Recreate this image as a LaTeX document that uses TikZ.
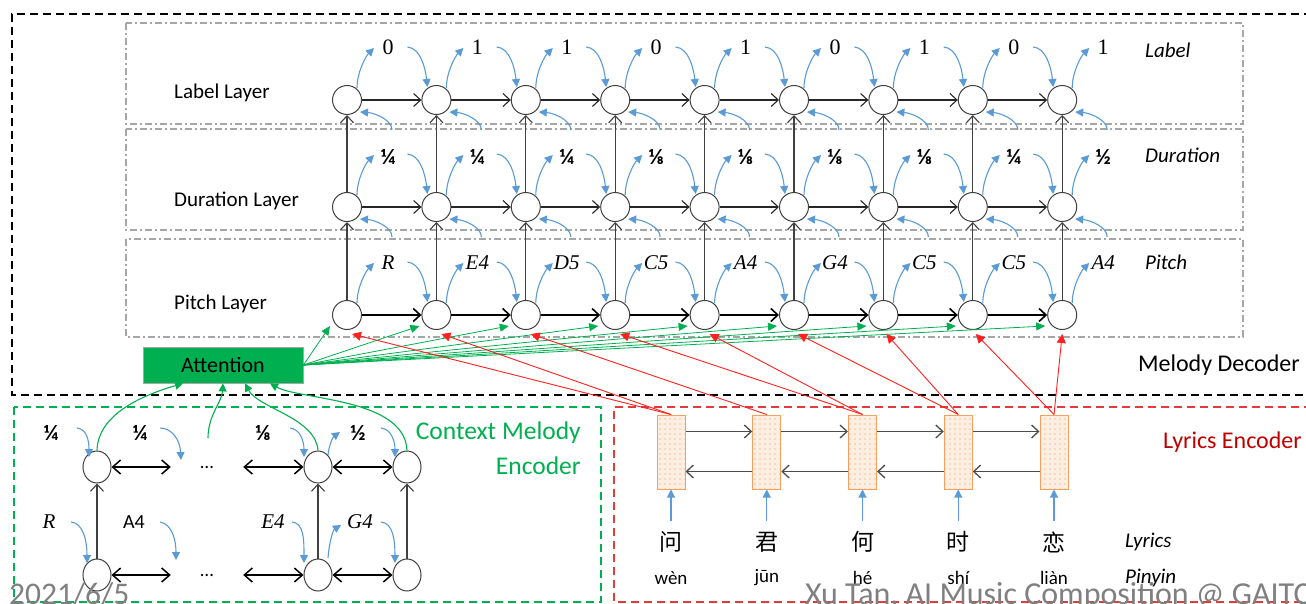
\documentclass[tikz,border=0pt]{standalone}
\usepackage{fontspec}
\setmainfont{Carlito}
\newfontfamily\cjk{Noto Sans CJK SC}
\newfontfamily\serifl{Liberation Serif}
\usetikzlibrary{arrows.meta,patterns.meta,calc,shapes.geometric}
\definecolor{cblue}{HTML}{5B9BD5}
\definecolor{cgreen}{HTML}{00B050}
\definecolor{cred}{HTML}{FF2020}
\definecolor{cdkred}{HTML}{C00000}
\definecolor{cbox}{HTML}{E03C3C}
\definecolor{cgray}{HTML}{A6A6A6}
\definecolor{corange}{HTML}{F4A060}
\definecolor{cfill}{HTML}{FDEEE2}
\definecolor{cdot}{HTML}{EE9050}
\definecolor{cfoot}{HTML}{808080}
\tikzset{
  mnode/.style={circle, draw=black!75, line width=1pt, minimum size=29pt, inner sep=0pt, fill=white},
  cnode/.style={ellipse, draw=black!75, line width=1pt, minimum width=28pt, minimum height=32pt, inner sep=0pt, fill=white},
  barbtip/.style={-{Straight Barb[length=7pt,width=13pt]}},
  harr/.style={draw=black!85, line width=1.1pt, barbtip},
  harrthick/.style={draw=black, line width=1.6pt, barbtip},
  varr/.style={draw=black!75, line width=1.1pt, barbtip},
  darr/.style={draw=black, line width=1.5pt, {Straight Barb[length=8pt,width=14pt]}-{Straight Barb[length=8pt,width=14pt]}},
  barr/.style={draw=cblue, line width=1.1pt, -{Triangle[length=8pt,width=8pt]}},
  garr/.style={draw=cgreen, line width=1.1pt, -{Triangle[length=8pt,width=8pt]}},
  gline/.style={draw=cgreen, line width=0.8pt, -{Triangle[length=9pt,width=8pt]}},
  rline/.style={draw=cred, line width=0.9pt, -{Triangle[length=9pt,width=9pt]}},
  layerbox/.style={draw=cgray, line width=1.6pt, dash pattern=on 7pt off 3pt on 2pt off 3pt},
  blackdash/.style={draw=black, line width=1.6pt, dash pattern=on 8pt off 5pt},
  greendash/.style={draw=cgreen, line width=1.6pt, dash pattern=on 8pt off 5pt},
  reddash/.style={draw=cbox, line width=1.6pt, dash pattern=on 8pt off 5pt},
  numlbl/.style={inner sep=0pt, font=\serifl\fontsize{22}{24}\selectfont},
  frlbl/.style={inner sep=0pt, font=\bfseries\fontsize{22}{24}\selectfont},
  mlbl/.style={inner sep=0pt, font=\serifl\itshape\fontsize{21}{24}\selectfont},
  plbl/.style={inner sep=0pt, font=\fontsize{20}{22}\selectfont},
  lname/.style={anchor=west, inner sep=0pt, font=\fontsize{21}{24}\selectfont},
  rname/.style={anchor=west, inner sep=0pt, font=\itshape\fontsize{21}{24}\selectfont},
  blk/.style={rectangle, minimum width=28pt, minimum height=74pt, inner sep=0pt, draw=corange, line width=1pt,
     preaction={fill=cfill}, pattern={Dots[distance=5pt,radius=0.6pt]}, pattern color=cdot},
  barr2/.style={draw=black!70, line width=1.3pt, barbtip},
}
\begin{document}
\begin{tikzpicture}[x=1pt,y=-1pt]
\useasboundingbox (0,0) rectangle (1306,604);
\fill[white] (0,0) rectangle (1306,604);

% decoder outer box and layer boxes
\draw[blackdash] (1312,14) -- (12,14) -- (12,395) -- (1312,395);
\draw[layerbox] (126,23) rectangle (1243,124);
\draw[layerbox] (126,129) rectangle (1243,230);
\draw[layerbox] (126,239) rectangle (1243,337);

\node[lname] (nl) at (174,93) {Label Layer};
\node[lname] (nd) at (174,201) {Duration Layer};
\node[lname] (np) at (174,304) {Pitch Layer};
\node[rname] (tl) at (1145,50) {Label};
\node[rname] (td) at (1145,155) {Duration};
\node[rname] (tp) at (1145,262) {Pitch};
\node[anchor=east, inner sep=0pt, font=\fontsize{24}{28}\selectfont] (md) at (1300,365) {Melody Decoder};

% lower boxes
\draw[greendash] (14,407) rectangle (601,602);
\draw[reddash] (1312,407) -- (614,407) -- (614,602) -- (1312,602);

% grid nodes
\foreach \i in {1,...,9}{
  \pgfmathsetmacro{\X}{347+89.4*(\i-1)}
  \node[mnode] (l\i) at (\X,100) {};
  \node[mnode] (d\i) at (\X,207) {};
  \node[mnode] (p\i) at (\X,315) {};
}
\foreach \i [evaluate=\i as \j using int(\i+1)] in {1,...,8}{
  \draw[harr] (l\i) -- (l\j);
  \draw[harr] (d\i) -- (d\j);
  \draw[harrthick] (p\i) -- (p\j);
}
\foreach \i in {1,...,9}{
  \draw[varr] (p\i) -- (d\i);
  \draw[varr] (d\i) -- (l\i);
}

% output labels
\foreach \i/\t in {1/0,2/1,3/1,4/0,5/1,6/0,7/1,8/0,9/1}
  \node[numlbl] (lt\i) at ($(l\i)+(41,-53)$) {\t};
\foreach \i/\t in {1/¼,2/¼,3/¼,4/⅛,5/⅛,6/⅛,7/⅛,8/¼,9/½}
  \node[frlbl] (dt\i) at ($(d\i)+(41,-50)$) {\t};
\foreach \i/\t in {1/R,2/E4,3/D5,4/C5,5/A4,6/G4,7/C5,8/C5,9/A4}
  \node[mlbl] (pt\i) at ($(p\i)+(41,-52)$) {\t};

% blue arrows
\foreach \r in {l,d,p}{
  \foreach \i in {1,...,9}{
    \draw[barr] ($(\r\i)+(10,-12)$) .. controls ($(\r\i)+(10,-28)$) and ($(\r\i)+(19,-44)$) .. ($(\r\i)+(27,-52)$);
  }
  \foreach \i in {2,...,9}{
    \draw[barr] ($(\r\i)+(-29,-53)$) .. controls ($(\r\i)+(-16,-52)$) and ($(\r\i)+(-11,-32)$) .. ($(\r\i)+(-9,-13)$);
  }
}
\foreach \r in {l,d}{
  \foreach \i in {1,...,9}{
    \draw[barr] ($(\r\i)+(45,30)$) .. controls ($(\r\i)+(45,20)$) and ($(\r\i)+(28,13)$) .. ($(\r\i)+(13,12)$);
  }
}

% attention
\node[draw=gray!70, line width=0.8pt, fill=cgreen, minimum width=160pt, minimum height=36pt, inner sep=0pt,
      font=\fontsize{22}{24}\selectfont] (att) at (223,365) {Attention};
\foreach \i in {1,...,9}
  \draw[gline] (att.east) -- ($(p\i)+(-17,11)$);

% lyrics encoder
\foreach \k/\c/\py in {1/问/wèn,2/君/jūn,3/何/hé,4/时/shí,5/恋/liàn}{
  \pgfmathsetmacro{\X}{671+95.75*(\k-1)}
  \node[blk] (b\k) at (\X,452) {};
  \node[inner sep=0pt, font=\cjk\fontsize{23}{25}\selectfont] (ch\k) at (\X,542) {\c};
  \node[inner sep=0pt, font=\fontsize{19}{22}\selectfont] (py\k) at (\X,578) {\py};
  \draw[barr] ($(b\k.south)+(0,31)$) -- (b\k.south);
}
\foreach \k [evaluate=\k as \j using int(\k+1)] in {1,...,4}{
  \draw[barr2] ($(b\k.north east)+(0,17)$) -- ($(b\j.north west)+(0,17)$);
  \draw[barr2] ($(b\j.north west)+(0,57)$) -- ($(b\k.north east)+(0,57)$);
}
\foreach \i/\k/\o in {1/1/5,2/1/5,3/2/5,4/3/5,5/3/5,6/4/4,7/4/3,8/5/3,9/5/0}
  \draw[rline] (b\k.north) -- ($(p\i)+(\o,19)$);

\node[rname] (tly) at (1125,542) {Lyrics};
\node[rname] (tpy) at (1125,578) {Pinyin};
\node[anchor=east, inner sep=0pt, text=cdkred, font=\fontsize{24}{28}\selectfont] (le) at (1302,442) {Lyrics Encoder};

% context melody encoder
\node[cnode] (cA) at (97,467) {};
\node[cnode] (cC) at (318,467) {};
\node[cnode] (cD) at (407,467) {};
\node[cnode] (ca) at (97,575) {};
\node[cnode] (cc) at (318,575) {};
\node[cnode] (cd) at (407,575) {};
\node[minimum width=72pt, inner sep=0pt, font=\fontsize{19}{22}\selectfont] (e1) at (207,467) {…};
\node[minimum width=72pt, inner sep=0pt, font=\fontsize{19}{22}\selectfont] (e2) at (207,575) {…};
\draw[darr] (cA) -- (e1);
\draw[darr] (e1) -- (cC);
\draw[darr] (cC) -- (cD);
\draw[darr] (ca) -- (e2);
\draw[darr] (e2) -- (cc);
\draw[darr] (cc) -- (cd);
\draw[varr] (ca) -- (cA);
\draw[varr] (cc) -- (cC);
\draw[varr] (cd) -- (cD);

\node[frlbl] (cq1) at (51,433) {¼};
\node[frlbl] (cq2) at (140,433) {¼};
\node[frlbl] (cq3) at (263,433) {⅛};
\node[frlbl] (cq4) at (358,433) {½};
\node[mlbl] (cp1) at (49,522) {R};
\node[plbl] (cp2) at (134,522) {A4};
\node[mlbl] (cp3) at (273,522) {E4};
\node[mlbl] (cp4) at (360,522) {G4};

\coordinate (s1) at (181,460);
\coordinate (s2) at (176,560);
\draw[barr] ($(cA)+(-20,-39)$) .. controls ($(cA)+(-10,-38)$) and ($(cA)+(-8,-26)$) .. ($(cA)+(-8,-10)$);
\draw[barr] ($(cq2)+(20,-5)$) .. controls ($(cq2)+(32,-5)$) and ($(s1)+(-1,-20)$) .. (s1);
\draw[barr] ($(cC)+(-28,-39)$) .. controls ($(cC)+(-18,-38)$) and ($(cC)+(-14,-26)$) .. ($(cC)+(-14,-10)$);
\draw[barr] ($(cC)+(10,-12)$) .. controls ($(cC)+(11,-22)$) and ($(cC)+(15,-30)$) .. ($(cC)+(22,-35)$);
\draw[barr] ($(cD)+(-26,-39)$) .. controls ($(cD)+(-16,-38)$) and ($(cD)+(-12,-26)$) .. ($(cD)+(-12,-10)$);
\draw[barr] ($(ca)+(-26,-53)$) .. controls ($(ca)+(-14,-52)$) and ($(ca)+(-10,-35)$) .. ($(ca)+(-10,-12)$);
\draw[barr] ($(cp2)+(26,0)$) .. controls ($(cp2)+(38,2)$) and ($(s2)+(0,-20)$) .. (s2);
\draw[barr] ($(cc)+(-26,-53)$) .. controls ($(cc)+(-14,-52)$) and ($(cc)+(-14,-35)$) .. ($(cc)+(-14,-12)$);
\draw[barr] ($(cc)+(10,-17)$) .. controls ($(cc)+(11,-32)$) and ($(cc)+(15,-45)$) .. ($(cc)+(23,-50)$);
\draw[barr] ($(cd)+(-26,-53)$) .. controls ($(cd)+(-14,-52)$) and ($(cd)+(-12,-35)$) .. ($(cd)+(-12,-12)$);

% green arrows to attention
\coordinate (g2) at (208,438);
\draw[garr] (cA.north) .. controls (98,415) and (140,396) .. ($(att.south)+(-40,0)$);
\draw[garr] (g2) .. controls (208,415) and (222,402) .. (att.south);
\draw[garr] (cC.north) .. controls (316,418) and (258,408) .. ($(att.south)+(22,0)$);
\draw[garr] (cD.north) .. controls (405,398) and (300,400) .. ($(att.south)+(47,0)$);

\node[lname, text=cgreen, anchor=east, font=\fontsize{25.5}{28}\selectfont] (cme1) at (581,433) {Context Melody};
\node[lname, text=cgreen, anchor=east, font=\fontsize{25.5}{28}\selectfont] (cme2) at (581,466) {Encoder};

% footer
\node[anchor=base west, inner sep=0pt, text=cfoot, font=\fontsize{31.5}{33}\selectfont] (f1) at (9,604) {2021/6/5};
\node[anchor=base west, inner sep=0pt, text=cfoot, font=\fontsize{32}{34}\selectfont] (f2) at (805,604) {Xu Tan, AI Music Composition @ GAITC};
\end{tikzpicture}
\end{document}
